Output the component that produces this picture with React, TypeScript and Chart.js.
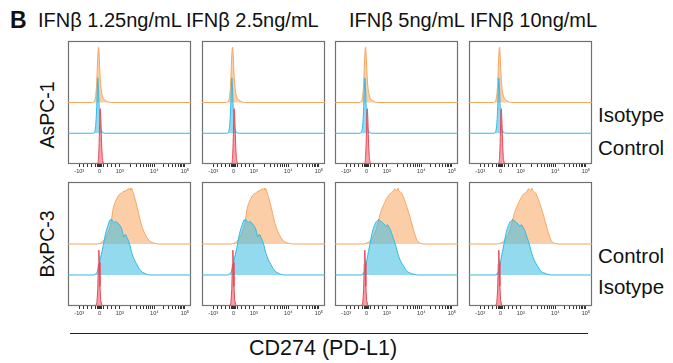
import React, { useEffect, useRef } from "react";
import { Chart, registerables } from "chart.js";
Chart.register(...registerables);

// ---------- text ----------
const PANEL_LETTER = "B";
const COLUMN_TITLES = ["IFNβ 1.25ng/mL", "IFNβ 2.5ng/mL", "IFNβ 5ng/mL", "IFNβ 10ng/mL"];
const ROW_NAMES = ["AsPC-1", "BxPC-3"];
const ROW1_SIDE_LABELS = ["Isotype", "Control"];
const ROW2_SIDE_LABELS = ["Control", "Isotype"];
const X_TITLE = "CD274 (PD-L1)";

// ---------- axis (biexponential display units 0..1000) ----------
const TICK_VALUES = [-1000, 0, 1000, 10000, 100000];
const TICK_LABELS = ["-10³", "0", "10³", "10⁴", "10⁵"];
const TICK_POS = [91, 256, 421, 702, 950];
const MINOR_VALUES = [-800, -600, -400, -200, -100, -50, 50, 100, 200, 400, 600, 800,
  2000, 3000, 4000, 5000, 6000, 7000, 8000, 9000,
  20000, 30000, 40000, 50000, 60000, 70000, 80000, 90000];

// ---------- histograms: [display position, % of max] ----------
// AsPC-1 (all IFNβ doses look alike)
const ASPC_TOP = [[0, 0], [200, 0], [212, 2], [222, 8], [230, 24], [236, 50], [241, 80], [246, 97], [249, 100], [253, 88], [258, 62], [264, 38], [271, 22], [280, 12], [292, 6], [308, 3], [325, 1], [345, 0], [1000, 0]];
const ASPC_MID = [[0, 0], [205, 0], [216, 3], [225, 14], [232, 40], [238, 78], [243, 100], [248, 82], [254, 45], [261, 18], [270, 6], [282, 2], [298, 0], [1000, 0]];
const ASPC_BOT = [[0, 0], [238, 0], [246, 6], [252, 30], [257, 70], [262, 100], [267, 82], [272, 45], [278, 16], [285, 4], [295, 0], [1000, 0]];

// BxPC-3, lower doses (1.25, 2.5)
const BXPC_TOP_A = [[0, 0], [237, 0], [260, 1], [278, 4], [300, 9], [320, 17], [335, 26], [347, 35], [358, 50], [369, 66], [378, 72], [388, 77], [398, 82], [408, 86], [416, 88], [424, 90], [434, 91], [444, 92], [452, 95], [463, 94], [471, 97], [479, 96], [489, 99], [499, 98], [507, 100], [512, 97], [519, 99], [526, 94], [533, 90], [540, 85], [551, 76], [562, 66], [572, 57], [581, 48], [592, 38], [603, 30], [615, 23], [628, 17], [642, 11], [656, 7], [672, 4], [691, 2], [712, 1], [733, 0], [1000, 0]];
const BXPC_MID_A = [[0, 0], [209, 0], [222, 1], [237, 5], [250, 16], [264, 30], [276, 42], [287, 53], [297, 65], [306, 75], [316, 83], [325, 89], [334, 95], [342, 99], [350, 98], [355, 100], [365, 96], [375, 94], [386, 96], [397, 95], [407, 92], [416, 91], [426, 87], [435, 84], [444, 76], [452, 68], [462, 72], [471, 72], [478, 68], [485, 65], [494, 60], [504, 53], [511, 46], [518, 40], [529, 33], [540, 27], [551, 22], [562, 18], [576, 12], [590, 8], [605, 5], [623, 3], [643, 1], [664, 0], [1000, 0]];
const BXPC_BOT_A = [[0, 0], [225, 0], [235, 6], [242, 30], [247, 75], [251, 100], [255, 78], [260, 35], [266, 10], [275, 2], [285, 0], [1000, 0]];

// BxPC-3, higher doses (5, 10)
const BXPC_TOP_B = [[0, 0], [234, 0], [274, 3], [295, 8], [315, 15], [330, 23], [342, 31], [356, 44], [370, 56], [384, 64], [397, 71], [410, 77], [424, 83], [435, 87], [446, 90], [456, 91], [465, 93], [474, 95], [484, 99], [492, 97], [500, 96], [506, 98], [511, 100], [518, 96], [527, 94], [536, 92], [546, 90], [555, 85], [565, 80], [576, 72], [587, 65], [598, 57], [609, 49], [618, 41], [628, 34], [637, 26], [647, 19], [657, 12], [668, 6], [682, 3], [696, 1], [723, 0], [1000, 0]];
const BXPC_MID_B = [[0, 0], [220, 0], [239, 6], [250, 17], [261, 29], [272, 42], [283, 54], [292, 65], [302, 76], [311, 83], [321, 89], [329, 93], [337, 96], [346, 98], [356, 100], [365, 97], [375, 96], [386, 94], [397, 92], [406, 89], [416, 87], [424, 90], [432, 89], [441, 85], [451, 81], [462, 74], [473, 67], [482, 61], [492, 54], [501, 46], [511, 38], [522, 31], [533, 25], [546, 20], [560, 15], [573, 10], [587, 6], [606, 4], [628, 2], [668, 0], [1000, 0]];
const BXPC_BOT_B = [[0, 0], [216, 0], [226, 6], [233, 30], [238, 75], [242, 100], [246, 78], [251, 35], [257, 10], [266, 2], [276, 0], [1000, 0]];

const PANEL_SERIES = [
  [[ASPC_TOP, ASPC_MID, ASPC_BOT], [ASPC_TOP, ASPC_MID, ASPC_BOT], [ASPC_TOP, ASPC_MID, ASPC_BOT], [ASPC_TOP, ASPC_MID, ASPC_BOT]],
  [[BXPC_TOP_A, BXPC_MID_A, BXPC_BOT_A], [BXPC_TOP_A, BXPC_MID_A, BXPC_BOT_A], [BXPC_TOP_B, BXPC_MID_B, BXPC_BOT_B], [BXPC_TOP_B, BXPC_MID_B, BXPC_BOT_B]],
];

// ---------- layout / style ----------
const FONT = "'Liberation Sans', Arial, Helvetica, sans-serif";
const COL_LEFT = [68, 202, 335, 469];
const PANEL_W = 123;
const ROW_TOP = [41, 182];
const PANEL_H = [123, 124];
const AXIS_H = 14;
const PAD = 2;
const OFFSETS = [0.5, 0.25, 0];
const PEAK = 0.45;
const STYLES = [
  { border: "rgb(246,166,95)", fill: "rgba(250,194,146,0.8)" },
  { border: "rgb(48,186,230)", fill: "rgba(60,188,226,0.55)" },
  { border: "rgb(230,72,88)", fill: "rgba(236,98,112,0.6)" },
];

function tickPos(v: number): number {
  if (v <= 0) return TICK_POS[1] + (v / 1000) * (TICK_POS[1] - TICK_POS[0]);
  if (v <= 1000) return TICK_POS[1] + (v / 1000) * (TICK_POS[2] - TICK_POS[1]);
  if (v <= 10000) return TICK_POS[2] + Math.log10(v / 1000) * (TICK_POS[3] - TICK_POS[2]);
  return TICK_POS[3] + Math.log10(v / 10000) * (TICK_POS[4] - TICK_POS[3]);
}

const AXIS_TICKS = [
  ...TICK_VALUES.map((v, i) => ({ value: TICK_POS[i], major: true, label: TICK_LABELS[i] })),
  ...MINOR_VALUES.map((v) => ({ value: tickPos(v), major: false, label: "" })),
].sort((a, b) => a.value - b.value);

const boxPlugin = {
  id: "panelBox",
  beforeDatasetsDraw(chart: any) {
    const { ctx, chartArea } = chart;
    const { left, top, right, bottom } = chartArea;
    ctx.save();
    ctx.strokeStyle = "#707070";
    ctx.lineWidth = 1.2;
    ctx.strokeRect(left + 0.5, top + 0.5, right - left - 1, bottom - top - 1);
    ctx.restore();
  },
};

function Panel({ row, col }: { row: number; col: number }) {
  const ref = useRef<HTMLCanvasElement>(null);
  useEffect(() => {
    const series = PANEL_SERIES[row][col];
    const smooth = row === 0;
    // bottom-first: Chart.js draws the last dataset first, so the top histogram ends underneath
    const datasets = [2, 1, 0].map((k) => ({
      data: series[k].map(([x, c]) => ({ x, y: OFFSETS[k] + (c / 100) * PEAK })),
      borderColor: STYLES[k].border,
      backgroundColor: STYLES[k].fill,
      borderWidth: 1,
      pointRadius: 0,
      fill: { value: OFFSETS[k] },
      tension: 0,
      cubicInterpolationMode: smooth ? "monotone" : "default",
    }));
    const chart = new Chart(ref.current!, {
      type: "line",
      data: { datasets } as any,
      plugins: [boxPlugin],
      options: {
        animation: false,
        responsive: false,
        devicePixelRatio: 1,
        layout: { padding: { left: PAD, right: PAD, top: PAD, bottom: 0 } },
        plugins: { legend: { display: false }, tooltip: { enabled: false } },
        scales: {
          y: { type: "linear", min: 0, max: 1, display: false },
          x: {
            type: "linear",
            min: 0,
            max: 1000,
            afterBuildTicks: (scale: any) => {
              scale.ticks = AXIS_TICKS.map((t) => ({ value: t.value, major: false }));
            },
            afterFit: (scale: any) => {
              scale.height = AXIS_H;
            },
            border: { display: false },
            grid: {
              display: true,
              drawOnChartArea: false,
              drawTicks: true,
              tickLength: 3,
              lineWidth: 1,
              color: "#333",
              tickColor: "#333",
            },
            ticks: {
              autoSkip: false,
              maxRotation: 0,
              minRotation: 0,
              padding: 1,
              color: "#333",
              font: { size: 5.5, family: FONT },
              callback: (value: any, index: number) => (AXIS_TICKS[index] ? AXIS_TICKS[index].label : ""),
            },
          },
        },
      } as any,
    });
    return () => chart.destroy();
  }, [row, col]);
  const w = PANEL_W + 2 * PAD;
  const h = PANEL_H[row] + PAD + AXIS_H;
  return (
    <canvas
      ref={ref}
      width={w}
      height={h}
      style={{ position: "absolute", left: COL_LEFT[col] - PAD, top: ROW_TOP[row] - PAD, width: w, height: h }}
    />
  );
}

function Text({ x, baseline, size, children, bold }: any) {
  return (
    <div
      style={{
        position: "absolute",
        left: x,
        top: baseline - 0.8465 * size,
        fontSize: size,
        lineHeight: `${size}px`,
        fontFamily: FONT,
        fontWeight: bold ? "bold" : "normal",
        whiteSpace: "nowrap",
        color: "#111",
      }}
    >
      {children}
    </div>
  );
}

function RotText({ cx, cy, size, children }: any) {
  return (
    <div
      style={{
        position: "absolute",
        left: cx,
        top: cy,
        transform: "translate(-50%, -50%) rotate(-90deg)",
        fontSize: size,
        lineHeight: `${size}px`,
        fontFamily: FONT,
        whiteSpace: "nowrap",
        color: "#111",
      }}
    >
      {children}
    </div>
  );
}

const TITLE_X = [38, 186, 349, 470];

export default function App() {
  return (
    <div style={{ position: "fixed", left: 0, top: 0, width: 673, height: 363, background: "#fff", overflow: "hidden" }}>
      <Text x={10} baseline={28} size={23} bold>{PANEL_LETTER}</Text>
      {COLUMN_TITLES.map((t, i) => (
        <Text key={t} x={TITLE_X[i]} baseline={27} size={20}>{t}</Text>
      ))}
      <RotText cx={48} cy={115} size={19.5}>{ROW_NAMES[0]}</RotText>
      <RotText cx={48} cy={244} size={19.5}>{ROW_NAMES[1]}</RotText>
      <Text x={598} baseline={122} size={20.5}>{ROW1_SIDE_LABELS[0]}</Text>
      <Text x={598} baseline={155} size={20.5}>{ROW1_SIDE_LABELS[1]}</Text>
      <Text x={598} baseline={263} size={20.5}>{ROW2_SIDE_LABELS[0]}</Text>
      <Text x={598} baseline={294} size={20.5}>{ROW2_SIDE_LABELS[1]}</Text>
      {[0, 1].map((r) => [0, 1, 2, 3].map((c) => <Panel key={`${r}-${c}`} row={r} col={c} />))}
      <div style={{ position: "absolute", left: 70, top: 333, width: 518, height: 1.3, background: "#222" }} />
      <Text x={249} baseline={356} size={21.5}>{X_TITLE}</Text>
    </div>
  );
}
